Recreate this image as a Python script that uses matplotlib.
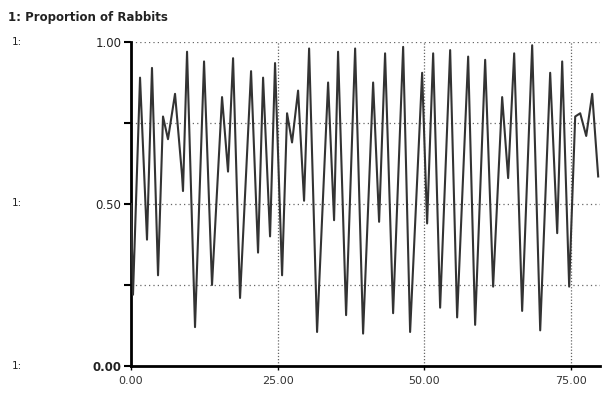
import matplotlib
matplotlib.use("Agg")
import matplotlib.pyplot as plt
import numpy as np

# Time (months) and proportion of rabbits (turning points)
time = [0.0, 0.34, 1.54, 2.73, 3.58, 4.61, 5.46, 6.31, 7.51, 8.70, 8.87, 9.56,
        10.92, 12.46, 13.82, 15.53, 16.55, 17.41, 18.60, 20.48, 21.67, 22.53,
        23.72, 24.57, 25.77, 26.62, 27.47, 28.50, 29.52, 30.38, 31.74, 33.62,
        34.64, 35.32, 36.69, 38.23, 39.59, 41.30, 42.32, 43.34, 44.71, 46.42,
        47.61, 49.66, 50.51, 51.54, 52.73, 54.44, 55.63, 57.51, 58.70, 60.41,
        61.77, 63.31, 64.33, 65.36, 66.72, 68.43, 69.80, 71.50, 72.70, 73.55,
        74.74, 75.77, 76.62, 77.65, 78.67, 79.69]
rabbits = [0.50, 0.22, 0.89, 0.39, 0.92, 0.28, 0.77, 0.70, 0.84, 0.59, 0.54, 0.97,
           0.12, 0.94, 0.25, 0.83, 0.60, 0.95, 0.21, 0.91, 0.35, 0.89,
           0.40, 0.935, 0.28, 0.78, 0.69, 0.85, 0.51, 0.98, 0.105, 0.875,
           0.45, 0.97, 0.157, 0.98, 0.10, 0.875, 0.445, 0.965, 0.163, 0.985,
           0.105, 0.905, 0.44, 0.965, 0.18, 0.975, 0.15, 0.955, 0.127, 0.945,
           0.245, 0.83, 0.58, 0.965, 0.17, 0.99, 0.11, 0.905, 0.41, 0.94,
           0.245, 0.77, 0.78, 0.71, 0.84, 0.585]

y_ticks = [0.0, 0.25, 0.5, 0.75, 1.0]
y_labels = ["0.00", "", "0.50", "", "1.00"]
x_ticks = [0, 25, 50, 75]
x_labels = ["0.00", "25.00", "50.00", "75.00"]

fig = plt.figure(figsize=(6.03, 3.94), dpi=100)
ax = fig.add_axes([131/603, 28/394, (600-131)/603, (366-42)/394])

for v in [0.25, 0.5, 0.75, 1.0]:
    ax.axhline(v, color="#666666", lw=0.9, ls=(0, (1, 2.5)), zorder=1)
for v in [25, 50, 75]:
    ax.axvline(v, color="#666666", lw=0.9, ls=(0, (1, 1.5)), zorder=1)

ax.plot(time, rabbits, color="#333333", lw=1.5, zorder=3)

ax.set_xlim(0, 80)
ax.set_ylim(0, 1)
for s in ["top", "right"]:
    ax.spines[s].set_visible(False)
ax.spines["left"].set_linewidth(2)
ax.spines["bottom"].set_linewidth(2)

ax.set_yticks(y_ticks)
ax.set_yticklabels(y_labels, fontsize=8.5, color="#222222")
ax.set_xticks(x_ticks)
ax.set_xticklabels(x_labels, fontsize=8, color="#333333")
ax.tick_params(axis="y", length=5, width=1.5, pad=2)
ax.tick_params(axis="x", length=3, width=1, pad=4)
ax.get_yticklabels()[0].set_fontweight("bold")

fig.text(8/603, 1 - 17/394, "1: Proportion of Rabbits", fontsize=8.5, fontweight="bold",
         color="#222222", va="center", ha="left")
for ypx in [42, 203, 366]:
    fig.text(12/603, 1 - ypx/394, "1:", fontsize=7.5, color="#222222", va="center", ha="left")

fig.savefig("out.png", dpi=100)
